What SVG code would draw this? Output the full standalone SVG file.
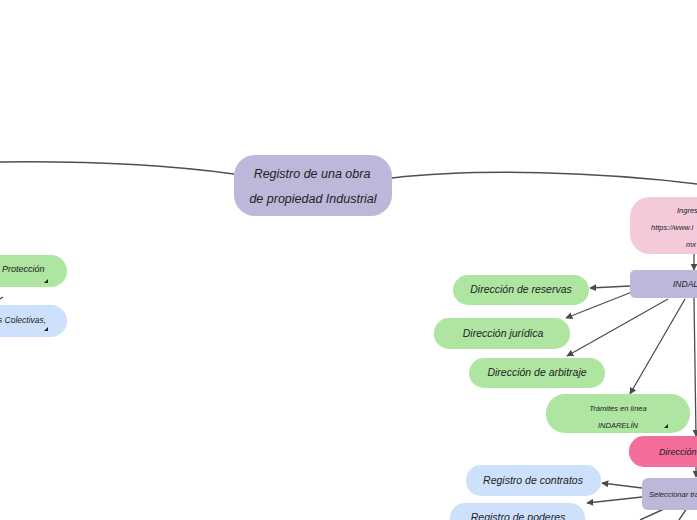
<svg xmlns="http://www.w3.org/2000/svg" width="697" height="520" viewBox="0 0 697 520">
<defs>
<marker id="ah" viewBox="0 0 10 10" refX="9" refY="5" markerWidth="7" markerHeight="7" orient="auto" markerUnits="userSpaceOnUse">
<path d="M0,0 L10,5 L0,10 z" fill="#4a4a4a"/>
</marker>
<style>
text{font-family:"Liberation Sans","DejaVu Sans",sans-serif;font-style:italic;fill:#222;}
.c{fill:none;stroke:#4f4f4f;stroke-width:1.4;}
.a{fill:none;stroke:#4f4f4f;stroke-width:1.3;marker-end:url(#ah);}
.lav{fill:#bdb7da;}
.grn{fill:#ade5a1;}
.blu{fill:#cde1fc;}
.pkl{fill:#f4c9da;}
.pkd{fill:#f26d9a;}
.m{font-size:10.5px;}
.s{font-size:7.5px;}
.tri{fill:#222;}
</style>
</defs>
<rect width="697" height="520" fill="#ffffff"/>
<g id="connectors">
<path class="c" d="M234,174 C160,164 80,161 0,162"/>
<path class="c" d="M392,178 C480,168 600,172 697,184"/>
<path class="c" d="M0,299 L3,297"/>
<path class="a" d="M694,254 L694,270"/>
<path class="a" d="M630,286 L590,288"/>
<path class="a" d="M632,292 L566,318"/>
<path class="a" d="M668,299 L567,356"/>
<path class="a" d="M685,299 L630,394"/>
<path class="a" d="M694,298 L696,436"/>
<path class="a" d="M696,467 L696,477"/>
<path class="a" d="M642,488 L602,483"/>
<path class="a" d="M642,497 L587,503"/>
<path class="c" d="M664,509 L640,520"/>
<path class="c" d="M687,508 L679,520"/>
</g>
<g id="central">
<rect class="lav" x="234" y="155" width="158" height="61" rx="21"/>
<text x="312" y="178" text-anchor="middle" style="font-size:12.5px">Registro de una obra</text>
<text x="313" y="203" text-anchor="middle" style="font-size:12.5px">de propiedad Industrial</text>
</g>
<g id="proteccion">
<rect class="grn" x="-30" y="255" width="97" height="32" rx="16"/>
<text class="m" x="2" y="272" style="font-size:9px">Protección</text>
<path class="tri" d="M44,283 L48,279 L48,283 z"/>
</g>
<g id="colectivas">
<rect class="blu" x="-30" y="305" width="97" height="32" rx="16"/>
<text x="-2" y="323" style="font-size:8.5px">s Colectivas,</text>
<path class="tri" d="M44,331 L48,327 L48,331 z"/>
</g>
<g id="ingresar">
<rect class="pkl" x="630" y="197" width="100" height="57" rx="20"/>
<text class="s" x="677" y="213">Ingres</text>
<text class="s" x="651" y="230">https://www.i</text>
<text class="s" x="686" y="247">mx</text>
</g>
<g id="indautor">
<rect class="lav" x="630" y="270" width="90" height="28" rx="5"/>
<text x="673" y="287" style="font-size:8.5px">INDAL</text>
</g>
<g id="reservas">
<rect class="grn" x="453" y="275" width="136" height="30" rx="15"/>
<text class="m" x="521" y="293" text-anchor="middle">Dirección de reservas</text>
</g>
<g id="juridica">
<rect class="grn" x="434" y="318" width="136" height="31" rx="15"/>
<text class="m" x="503" y="337" text-anchor="middle">Dirección jurídica</text>
</g>
<g id="arbitraje">
<rect class="grn" x="469" y="358" width="136" height="30" rx="15"/>
<text class="m" x="537" y="376" text-anchor="middle">Dirección de arbitraje</text>
</g>
<g id="tramites">
<rect class="grn" x="546" y="394" width="144" height="39" rx="19"/>
<text class="s" x="618" y="411" text-anchor="middle">Trámites en línea</text>
<text class="s" x="618" y="428" text-anchor="middle">INDARELÍN</text>
<path class="tri" d="M664,428 L668,424 L668,428 z"/>
</g>
<g id="direccion">
<rect class="pkd" x="629" y="436" width="100" height="31" rx="15"/>
<text x="659" y="455" style="font-size:9px">Dirección</text>
</g>
<g id="seleccionar">
<rect class="lav" x="642" y="478" width="80" height="32" rx="6"/>
<text x="649" y="497" style="font-size:7.5px">Seleccionar trá</text>
</g>
<g id="contratos">
<rect class="blu" x="466" y="465" width="135" height="31" rx="15"/>
<text class="m" x="533" y="484" text-anchor="middle">Registro de contratos</text>
</g>
<g id="poderes">
<rect class="blu" x="450" y="503" width="135" height="32" rx="15"/>
<text class="m" x="518" y="521" text-anchor="middle">Registro de poderes</text>
</g>
</svg>
